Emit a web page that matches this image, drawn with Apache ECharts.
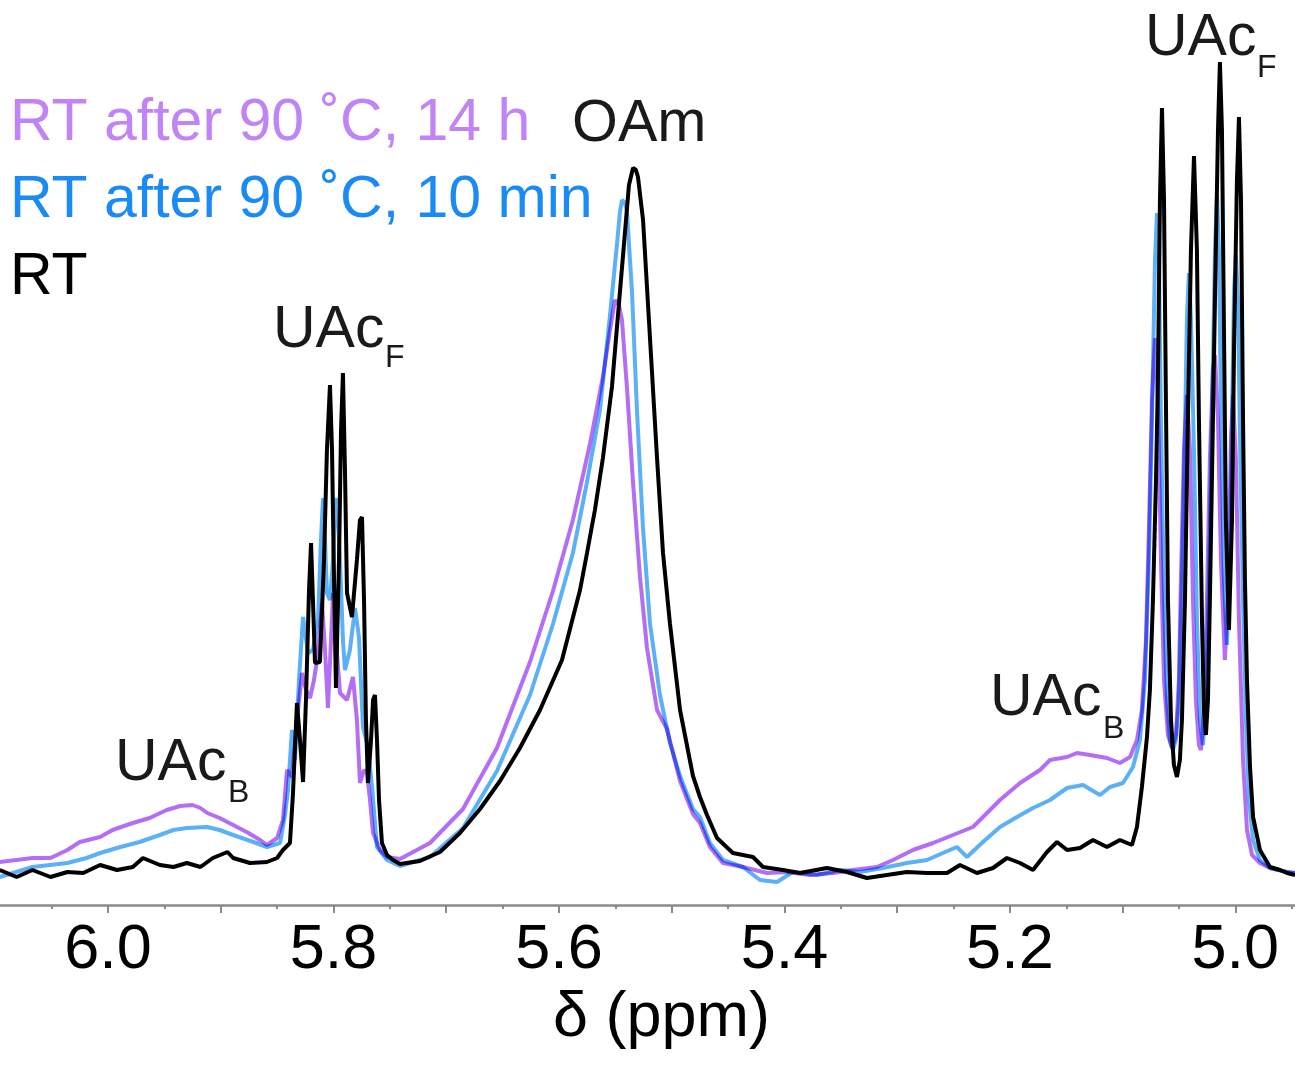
<!DOCTYPE html>
<html>
<head>
<meta charset="utf-8">
<title>NMR spectra</title>
<script src="https://cdn.jsdelivr.net/npm/echarts@6.0.0/dist/echarts.min.js"></script>
<style>
  html, body { margin: 0; padding: 0; background: #fff; }
  #chart { width: 1295px; height: 1068px; }
</style>
</head>
<body>
<div id="chart"></div>
<script>
// chemical shift (ppm), intensity (a.u.)
var rtSpectrum = [
  [6.096,0],[6.081,-7],[6.067,0],[6.051,-7],[6.036,-2],[6.022,-3],[6.007,5],[5.992,0],[5.978,3],[5.969,12],
  [5.954,5],[5.942,3],[5.930,7],[5.918,3],[5.907,12],[5.894,18],[5.889,12],[5.874,7],[5.859,8],[5.850,12],
  [5.8448,20],[5.8386,27],[5.8359,77],[5.8324,167],[5.8297,130],[5.8270,88],[5.8244,170],[5.8217,280],[5.8199,327],[5.8182,270],
  [5.8164,207],[5.8120,208],[5.8084,310],[5.8058,420],[5.8031,485],[5.8013,420],[5.7995,290],[5.7978,182],[5.7951,310],[5.7933,440],
  [5.7916,497],[5.7898,400],[5.7880,277],[5.7836,253],[5.7792,310],[5.7765,350],[5.7747,353],[5.7729,270],[5.7712,150],[5.7694,87],
  [5.7667,130],[5.7649,170],[5.7632,175],[5.7614,130],[5.7596,70],[5.7570,27],[5.7525,15],[5.7472,10],[5.7410,6],[5.7233,9],
  [5.7055,18],[5.6878,37],[5.6700,61],[5.6523,89],[5.6346,122],[5.6168,160],[5.5973,210],[5.5813,280],[5.5751,317],[5.5681,360],
  [5.5610,412],[5.5530,483],[5.5459,578],[5.5405,650],[5.5379,685],[5.5343,702],[5.5317,700],[5.5299,693],[5.5254,650],[5.5192,531],
  [5.5130,412],[5.5077,317],[5.5015,246],[5.4926,160],[5.4811,94],[5.4749,73],[5.4687,55],[5.4598,32],[5.4457,17],[5.4279,13],
  [5.4190,3],[5.4013,0],[5.3862,-3],[5.3623,2],[5.3445,-2],[5.3268,-8],[5.3091,-5],[5.2913,-2],[5.2735,-3],[5.2558,-3],
  [5.2443,5],[5.2292,-3],[5.2150,2],[5.2026,12],[5.1910,7],[5.1795,0],[5.1671,18],[5.1582,28],[5.1493,20],[5.1378,22],
  [5.1263,30],[5.1139,23],[5.1024,30],[5.0917,25],[5.0873,43],[5.0829,83],[5.0784,133],[5.0758,180],[5.0731,270],[5.0704,390],
  [5.0687,490],[5.0669,670],[5.0651,762],[5.0633,670],[5.0616,470],[5.0598,270],[5.0571,150],[5.0545,105],[5.0518,93],[5.0492,110],
  [5.0474,150],[5.0447,270],[5.0421,450],[5.0394,620],[5.0367,714],[5.0341,620],[5.0323,450],[5.0296,250],[5.0279,160],[5.0261,135],
  [5.0243,170],[5.0226,270],[5.0208,390],[5.0181,570],[5.0154,740],[5.0137,808],[5.0119,740],[5.0101,540],[5.0084,350],[5.0057,240],
  [5.0030,350],[5.0012,520],[4.9986,690],[4.9968,753],[4.9950,670],[4.9932,450],[4.9915,290],[4.9897,190],[4.9870,103],[4.9843,53],
  [4.9782,20],[4.9693,3],[4.9604,0],[4.9542,-3],[4.9471,-5]
];

var rt10minSpectrum = [
  [6.096,-7],[6.067,3],[6.036,7],[6.019,12],[6.007,17],[5.989,23],[5.972,28],[5.954,35],[5.942,40],[5.930,42],
  [5.912,43],[5.901,40],[5.889,35],[5.871,28],[5.859,23],[5.8474,27],[5.8430,55],[5.8403,80],[5.8368,140],[5.8341,110],
  [5.8306,190],[5.8270,253],[5.8226,217],[5.8182,220],[5.8137,250],[5.8111,330],[5.8093,372],[5.8075,330],[5.8058,277],[5.8031,270],
  [5.8004,310],[5.7987,360],[5.7969,372],[5.7942,310],[5.7916,230],[5.7898,200],[5.7854,220],[5.7809,262],[5.7774,233],[5.7738,143],
  [5.7694,123],[5.7658,83],[5.7614,23],[5.7525,10],[5.7410,4],[5.7144,13],[5.6851,42],[5.6550,99],[5.6257,175],[5.6053,246],
  [5.5876,317],[5.5751,388],[5.5636,460],[5.5547,555],[5.5485,626],[5.5459,658],[5.5441,670],[5.5414,667],[5.5397,659],[5.5352,578],
  [5.5308,460],[5.5254,341],[5.5192,246],[5.5104,175],[5.5015,127],[5.4926,94],[5.4811,61],[5.4749,53],[5.4661,27],[5.4545,10],
  [5.4368,3],[5.4217,-10],[5.4066,-12],[5.3924,-2],[5.3711,-5],[5.3507,0],[5.3330,-2],[5.3126,2],[5.2913,7],[5.2735,10],
  [5.2594,17],[5.2470,23],[5.2381,13],[5.2239,28],[5.2088,43],[5.1937,53],[5.1795,62],[5.1644,70],[5.1493,82],[5.1352,85],
  [5.1201,75],[5.1112,83],[5.0997,87],[5.0908,103],[5.0846,130],[5.0802,190],[5.0767,310],[5.0740,450],[5.0713,610],[5.0695,657],
  [5.0678,610],[5.0660,450],[5.0633,270],[5.0607,170],[5.0580,130],[5.0554,120],[5.0527,130],[5.0501,170],[5.0474,290],[5.0447,440],
  [5.0430,550],[5.0412,597],[5.0394,550],[5.0367,420],[5.0341,250],[5.0314,150],[5.0288,125],[5.0261,170],[5.0235,290],[5.0208,450],
  [5.0181,620],[5.0163,675],[5.0146,620],[5.0128,470],[5.0101,290],[5.0075,225],[5.0048,310],[5.0030,450],[5.0012,580],[4.9995,615],
  [4.9977,570],[4.9959,430],[4.9932,270],[4.9906,150],[4.9879,70],[4.9843,30],[4.9782,10],[4.9693,2],[4.9542,-2],[4.9471,-3]
];

var rt14hSpectrum = [
  [6.096,8],[6.067,12],[6.051,12],[6.036,20],[6.025,28],[6.007,33],[5.996,40],[5.978,47],[5.963,52],[5.948,60],
  [5.936,64],[5.925,65],[5.918,62],[5.912,57],[5.901,52],[5.889,45],[5.877,38],[5.865,30],[5.859,25],[5.850,32],
  [5.8448,50],[5.8412,100],[5.8368,93],[5.8324,150],[5.8279,197],[5.8244,180],[5.8208,172],[5.8173,190],[5.8146,210],[5.8120,240],
  [5.8102,267],[5.8075,220],[5.8049,162],[5.8022,230],[5.8004,277],[5.7978,230],[5.7942,177],[5.7880,170],[5.7827,193],[5.7792,150],
  [5.7765,87],[5.7729,100],[5.7703,97],[5.7676,70],[5.7649,37],[5.7587,20],[5.7525,13],[5.7410,11],[5.7144,27],[5.6851,61],
  [5.6550,122],[5.6257,208],[5.6053,279],[5.5876,350],[5.5725,426],[5.5610,493],[5.5547,540],[5.5503,570],[5.5468,565],[5.5441,550],
  [5.5397,483],[5.5343,388],[5.5281,293],[5.5219,222],[5.5130,160],[5.5042,141],[5.4926,89],[5.4811,56],[5.4749,47],[5.4661,23],
  [5.4545,7],[5.4368,3],[5.4155,-3],[5.3977,-2],[5.3773,-5],[5.3569,-3],[5.3392,0],[5.3179,3],[5.3037,10],[5.2860,20],
  [5.2682,27],[5.2505,35],[5.2328,43],[5.2203,57],[5.2088,70],[5.1910,87],[5.1733,100],[5.1644,110],[5.1493,113],[5.1405,117],
  [5.1290,115],[5.1139,112],[5.1024,107],[5.0935,113],[5.0873,130],[5.0829,160],[5.0793,230],[5.0767,340],[5.0740,470],[5.0713,532],
  [5.0687,470],[5.0660,310],[5.0633,190],[5.0598,135],[5.0562,122],[5.0527,135],[5.0501,190],[5.0483,290],[5.0456,420],[5.0430,475],
  [5.0403,420],[5.0376,270],[5.0350,170],[5.0323,125],[5.0305,120],[5.0279,160],[5.0252,270],[5.0226,410],[5.0199,500],[5.0181,515],
  [5.0154,450],[5.0128,310],[5.0093,210],[5.0066,270],[5.0039,430],[5.0021,475],[4.9995,410],[4.9968,250],[4.9932,110],[4.9897,40],
  [4.9852,15],[4.9782,7],[4.9693,2],[4.9542,-2],[4.9471,-3]
];

var tickLabels = [5.0, 5.2, 5.4, 5.6, 5.8, 6.0];
var majorTicks = [5.0, 5.1, 5.2, 5.3, 5.4, 5.5, 5.6, 5.7, 5.8, 5.9, 6.0];
var minorTicks = [4.95, 5.05, 5.15, 5.25, 5.35, 5.45, 5.55, 5.65, 5.75, 5.85, 5.95, 6.05];
var legendNames = ['RT after 90 \u02DAC, 14 h', 'RT after 90 \u02DAC, 10 min', 'RT'];

var FONT = '"Liberation Sans", Arial, sans-serif';
var chart = echarts.init(document.getElementById('chart'));

function label(txt, x, y, size, color) {
  return {
    type: 'text', x: x, y: y, silent: true,
    style: { text: txt, font: size + 'px ' + FONT, fill: color || '#1a1a1a', align: 'left', verticalAlign: 'middle' }
  };
}

var option = {
  animation: false,
  backgroundColor: '#fff',
  grid: { left: 0, right: 0, top: 0, bottom: 163 },
  xAxis: [
    {
      type: 'value', inverse: true, min: 4.9471, max: 6.0958,
      name: '\u03B4 (ppm)', nameLocation: 'middle', nameGap: 70,
      nameTextStyle: { fontFamily: FONT, fontSize: 63, color: '#000', padding: [0, 0, 0, 28] },
      axisLine: { onZero: false, lineStyle: { color: '#8a8a8a', width: 2.5 } },
      axisTick: { customValues: majorTicks, length: 8, lineStyle: { color: '#8a8a8a', width: 2 } },
      axisLabel: { customValues: tickLabels, margin: 14, fontFamily: FONT, fontSize: 63, color: '#000',
        formatter: function (v) { return v.toFixed(1); } },
      splitLine: { show: false }
    },
    {
      type: 'value', inverse: true, min: 4.9471, max: 6.0958, position: 'bottom',
      axisLine: { show: false, onZero: false },
      axisTick: { customValues: minorTicks, length: 4, lineStyle: { color: '#8a8a8a', width: 2 } },
      axisLabel: { show: false },
      splitLine: { show: false }
    }
  ],
  yAxis: { type: 'value', min: -35, max: 870, show: false },
  series: [
    { name: legendNames[1], type: 'line', data: rt10minSpectrum, showSymbol: false, symbol: 'none',
      lineStyle: { color: '#5cb1f6', width: 4 } },
    { name: legendNames[0], type: 'line', data: rt14hSpectrum, showSymbol: false, symbol: 'none', blendMode: 'multiply',
      lineStyle: { color: '#b46ef6', width: 4 } },
    { name: legendNames[2], type: 'line', data: rtSpectrum, showSymbol: false, symbol: 'none',
      lineStyle: { color: '#000000', width: 4 } }
  ],
  graphic: [
    label(legendNames[0], 10, 124, 59, '#c084f7'),
    label(legendNames[1], 10, 201, 59, '#1a8af5'),
    label(legendNames[2], 10, 278, 59, '#000'),
    label('OAm', 572, 125, 59),
    label('UAc', 1145, 39, 59), label('F', 1257, 68, 32),
    label('UAc', 273, 331, 59), label('F', 385, 358, 32),
    label('UAc', 115, 764, 59), label('B', 228, 793, 32),
    label('UAc', 990, 699, 59), label('B', 1103, 729, 32)
  ]
};
chart.setOption(option);
</script>
</body>
</html>
